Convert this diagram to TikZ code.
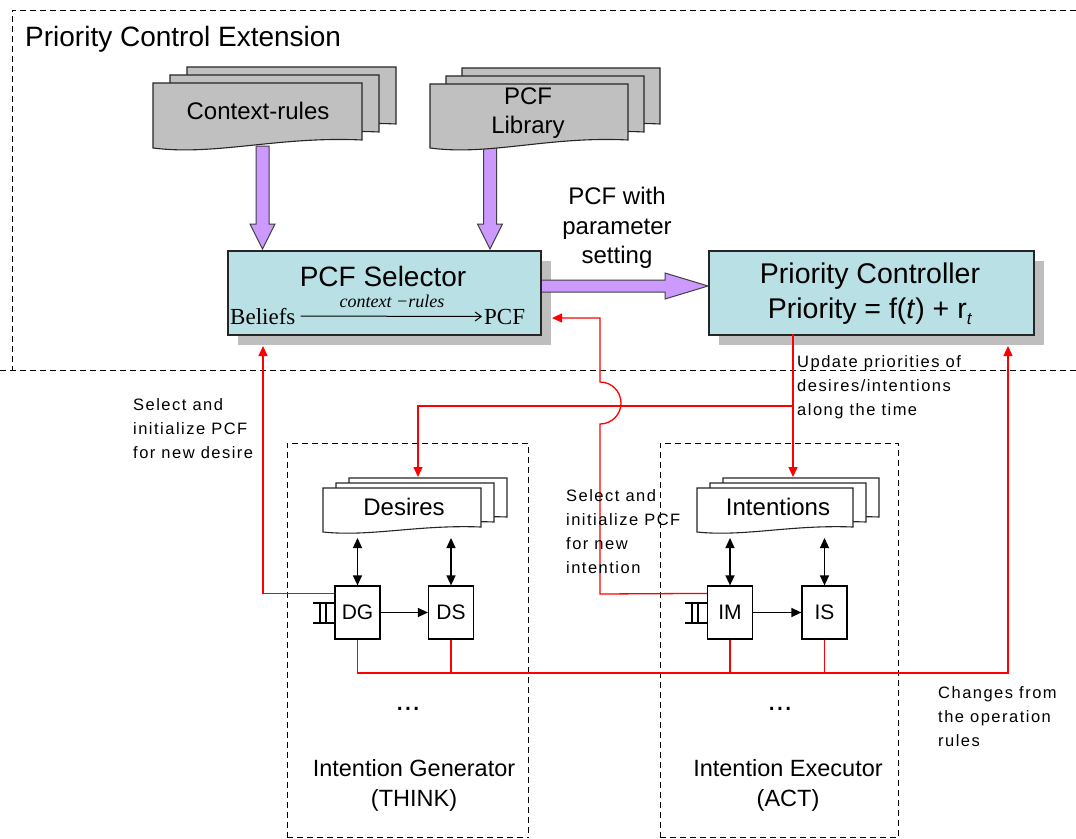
\documentclass[tikz,border=0pt]{standalone}
\usepackage{fontspec}
\setmainfont{Liberation Sans}
\newfontfamily\serifface{Liberation Serif}
\newfontfamily\labelface[LetterSpace=9]{Liberation Sans}
\usetikzlibrary{arrows.meta}
\definecolor{boxfill}{RGB}{185,224,228}
\definecolor{docgray}{RGB}{192,192,192}
\definecolor{shadowgray}{RGB}{190,190,190}
\definecolor{bigviolet}{RGB}{204,153,255}
\definecolor{linkred}{RGB}{255,0,0}
\newcommand{\docsheet}[6]{\filldraw[fill=#6,draw=black!85,line width=1.1pt] ({#1},{#2}) -- ({#1+#3},{#2}) -- ({#1+#3},{#2+#4}) .. controls ({#1+0.6*#3},{#2+#4-0.5*#5}) and ({#1+0.3*#3},{#2+#4+2*#5}) .. ({#1},{#2+#4+#5}) -- cycle;}
\newcommand{\docstack}[8]{\docsheet{#1+2*(#6)}{#2+2*(#7)}{#3}{#4}{#5}{#8}\docsheet{#1+#6}{#2+#7}{#3}{#4}{#5}{#8}\docsheet{#1}{#2}{#3}{#4}{#5}{#8}}
\newcommand{\vbig}[3]{\filldraw[fill=bigviolet,draw=black!75,line width=1pt,line join=miter] ({#1-6.5},{#2}) -- ({#1+6.5},{#2}) -- ({#1+6.5},{#3-25}) -- ({#1+12.5},{#3-25}) -- ({#1},{#3}) -- ({#1-12.5},{#3-25}) -- ({#1-6.5},{#3-25}) -- cycle;}
\tikzset{
  dashline/.style={line width=1pt, dash pattern=on 6pt off 4pt},
  mainbox/.style={draw=black!85, line width=1.5pt, fill=boxfill, inner sep=0pt, anchor=north west},
  smallbox/.style={draw=black, line width=1.2pt, fill=white, minimum width=45pt, minimum height=53pt, inner sep=0pt, font=\fontsize{21}{21}\selectfont},
  redl/.style={draw=linkred, line width=1.3pt},
  redtip/.style={-{Triangle[length=10pt,width=9pt]}},
  blk/.style={draw=black, line width=1.3pt},
  doclabel/.style={font=\fontsize{24}{29}\selectfont, align=center, inner sep=0pt},
  smalllabel/.style={font=\labelface\fontsize{16.5}{24}\selectfont, align=left, anchor=north west, inner sep=0pt},
}
\begin{document}
\begin{tikzpicture}[x=1pt,y=-1pt]
\useasboundingbox (0,0) rectangle (1076,838);
\fill[white] (0,0) rectangle (1076,838);
% outer dashed region
\draw[dashline] (1076,10) -- (12,10) -- (12,370);
\draw[dashline] (0,370) -- (1076,370);
\node[anchor=base west, inner sep=0pt, font=\fontsize{28}{30}\selectfont] (title) at (25,46) {Priority Control Extension};
% purple down arrows
\vbig{262.5}{146}{249}
\vbig{490}{145}{249}
% document stacks
\docstack{153}{83}{209}{57}{8}{17}{-8}{docgray}
\node[doclabel] (ctx) at (258,111) {Context-rules};
\docstack{430}{84}{198}{56}{8}{16}{-8}{docgray}
\node[doclabel] (lib) at (528,113) {PCF\\Library};
% shadows
\fill[shadowgray] (238,261) rectangle (551,345);
\fill[shadowgray] (719,261) rectangle (1044,345);
% big horizontal arrow
\filldraw[fill=bigviolet,draw=black!75,line width=1pt,line join=miter] (535,280) -- (665,280) -- (665,273) -- (708,286) -- (665,299) -- (665,292) -- (535,292) -- cycle;
% main boxes
\node[mainbox, minimum width=313pt, minimum height=84pt] (sel) at (227,250) {};
\node[mainbox, minimum width=325pt, minimum height=84pt] (pc) at (708,250) {};
\node[font=\fontsize{28}{28}\selectfont] (seltitle) at (383,276) {PCF Selector};
\node[anchor=base west, inner sep=0pt, font=\serifface\fontsize{23}{23}\selectfont] (bel) at (230,324) {Beliefs};
\node[anchor=base west, inner sep=0pt, font=\serifface\fontsize{23}{23}\selectfont] (pcfm) at (484,324) {PCF};
\draw[line width=1pt, -{Straight Barb[length=6pt,width=9pt]}] ([xshift=5pt]bel.east) -- ([xshift=-2pt]pcfm.west);
\node[font=\serifface\itshape\fontsize{18}{18}\selectfont] (crl) at (392,301) {context −rules};
\node[font=\fontsize{28.5}{35}\selectfont, align=center] (pctext) at (870,294) {Priority Controller\\Priority = f(\textit{t}) + r\raisebox{-6pt}{\fontsize{17}{17}\selectfont\textit{t}}};
\node[font=\fontsize{24}{29.5}\selectfont, align=center] (pcfset) at (617,228) {PCF with\\parameter\\setting};
% lower dashed boxes
\draw[dashline] (287,838) -- (287,443) -- (528,443) -- (528,838);
\draw[dashline] (287,837) -- (528,837);
\draw[dashline] (660,838) -- (660,443) -- (898,443) -- (898,838);
\draw[dashline] (660,837) -- (898,837);
% desires / intentions
\docstack{323}{488}{158}{39}{5}{13}{-5}{white}
\node[doclabel] (des) at (404,507) {Desires};
\docstack{697}{488}{156}{39}{5}{13}{-5}{white}
\node[doclabel] (int) at (778,507) {Intentions};
% small boxes
\node[smallbox] (dg) at (357.5,612.5) {DG};
\node[smallbox] (ds) at (451,612.5) {DS};
\node[smallbox] (im) at (730,612.5) {IM};
\node[smallbox] (is) at (824.5,612.5) {IS};
% queue symbols
\draw[blk, line width=1.1pt] (313,603) -- (dg.west |- 0,603) (313,623) -- (dg.west |- 0,623) (320,603) -- (320,623) (326,603) -- (326,623);
\draw[blk, line width=1.1pt] (685,603) -- (im.west |- 0,603) (685,623) -- (im.west |- 0,623) (692,603) -- (692,623) (698,603) -- (698,623);
% black arrows
\coordinate (docbot) at (0,538);
\tikzset{dbl/.style={blk, {Triangle[length=10pt,width=9pt]}-{Triangle[length=10pt,width=9pt]}}}
\draw[dbl] (dg.north |- docbot) -- (dg.north);
\draw[dbl] (ds.north |- docbot) -- (ds.north);
\draw[dbl] (im.north |- docbot) -- (im.north);
\draw[dbl] (is.north |- docbot) -- (is.north);
\draw[blk, -{Triangle[length=10pt,width=9pt]}] (dg.east) -- (ds.west);
\draw[blk, -{Triangle[length=10pt,width=9pt]}] (im.east) -- (is.west);
% red connectors
\coordinate (pcout) at (793,334);
\coordinate (intin) at (793,477);
\coordinate (br) at (793,406);
\coordinate (desin) at (418,477);
\coordinate (selin) at (552,318);
\coordinate (selbot) at (263,346);
\coordinate (pcin) at (1008,346);
\coordinate (busr) at (1008,673);
\draw[redl, redtip] (pcout) -- (intin);
\draw[redl, redtip] (br) -| (desin);
\draw[redl, redtip] ([yshift=-8pt]im.north west) -- (600,594) -- (600,424) .. controls (611.6,424) and (621,414.6) .. (621,403) .. controls (621,391.4) and (611.6,382) .. (600,382) -- (600,318) -- (selin);
\draw[redl, redtip] ([yshift=-8pt]dg.north west) -| (selbot);
\draw[redl, redtip] (dg.south) |- (busr) -- (pcin);
\draw[redl] (ds.south) -- (ds.south |- busr);
\draw[redl] (im.south) -- (im.south |- busr);
\draw[redl] (is.south) -- (is.south |- busr);
% dots and captions
\node[font=\fontsize{30}{30}\selectfont] (dots1) at (408,709) {...};
\node[font=\fontsize{30}{30}\selectfont] (dots2) at (780,709) {...};
\node[font=\fontsize{23.5}{30}\selectfont, align=center] (think) at (414,785) {Intention Generator\\(THINK)};
\node[font=\fontsize{23.5}{30}\selectfont, align=center] (act) at (788,785) {Intention Executor\\(ACT)};
% small labels
\node[smalllabel] (lbldes) at (133,398) {Select and\\initialize PCF\\for new desire};
\node[smalllabel] (lblint) at (566,489) {Select and\\initialize PCF\\for new\\intention};
\node[smalllabel] (lblupd) at (797,355) {Update priorities of\\desires/intentions\\along the time};
\node[smalllabel] (lblchg) at (938,686) {Changes from\\the operation\\rules};
\end{tikzpicture}
\end{document}
